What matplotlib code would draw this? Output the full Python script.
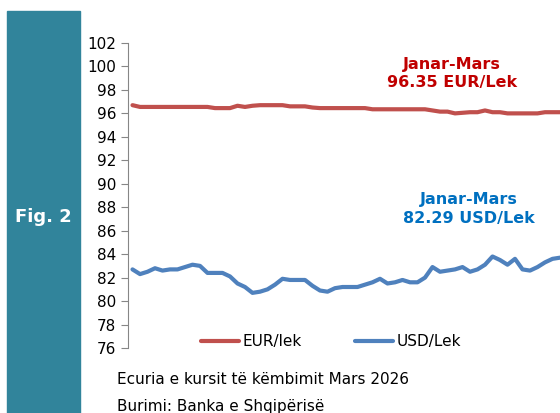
import matplotlib.pyplot as plt
from matplotlib.patches import Rectangle

eur = [96.7, 96.55, 96.55, 96.55, 96.55, 96.55, 96.55, 96.55, 96.55, 96.55,
       96.55, 96.45, 96.45, 96.45, 96.65, 96.55, 96.65, 96.7, 96.7, 96.7,
       96.7, 96.6, 96.6, 96.6, 96.5, 96.45, 96.45, 96.45, 96.45, 96.45,
       96.45, 96.45, 96.35, 96.35, 96.35, 96.35, 96.35, 96.35, 96.35, 96.35,
       96.25, 96.15, 96.15, 96.0, 96.05, 96.1, 96.1, 96.25, 96.1, 96.1,
       96.0, 96.0, 96.0, 96.0, 96.0, 96.1, 96.1, 96.1]
usd = [82.7, 82.3, 82.5, 82.8, 82.6, 82.7, 82.7, 82.9, 83.1, 83.0,
       82.4, 82.4, 82.4, 82.1, 81.5, 81.2, 80.7, 80.8, 81.0, 81.4,
       81.9, 81.8, 81.8, 81.8, 81.3, 80.9, 80.8, 81.1, 81.2, 81.2,
       81.2, 81.4, 81.6, 81.9, 81.5, 81.6, 81.8, 81.6, 81.6, 82.0,
       82.9, 82.5, 82.6, 82.7, 82.9, 82.5, 82.7, 83.1, 83.8, 83.5,
       83.1, 83.6, 82.7, 82.6, 82.9, 83.3, 83.6, 83.7]
yticks = list(range(76, 103, 2))

fig = plt.figure(figsize=(5.6, 4.13), dpi=100)
fig.patches.append(Rectangle((7 / 560, 0), 73 / 560, 1 - 11 / 413,
                             transform=fig.transFigure, color='#31849B', zorder=0))
fig.text(43 / 560, 1 - 217 / 413, 'Fig. 2', color='white', fontsize=13,
         fontweight='bold', ha='center', va='center')

ax = fig.add_axes([128 / 560, 1 - 348 / 413, 1 - 128 / 560, 305 / 413])
x = list(range(len(usd)))
ax.plot(x, eur, color='#C0504D', lw=3, label='EUR/lek', solid_capstyle='round')
ax.plot(x, usd, color='#4F81BD', lw=3, label='USD/Lek', solid_capstyle='round')
ax.set_ylim(76, 102)
ax.set_xlim(-0.6, len(usd) - 1)
ax.set_yticks(yticks)
ax.set_xticks([])
for s in ['top', 'right', 'bottom']:
    ax.spines[s].set_visible(False)
ax.spines['left'].set_color('#868686')
ax.tick_params(axis='y', colors='#868686', labelcolor='black', labelsize=11, length=5)
ax.set_facecolor('none')

ax.text(0.75, 0.955, 'Janar-Mars\n96.35 EUR/Lek', transform=ax.transAxes, ha='center',
        va='top', color='#C00000', fontsize=11.5, fontweight='bold', linespacing=1.3)
ax.text(0.79, 0.51, 'Janar-Mars\n82.29 USD/Lek', transform=ax.transAxes, ha='center',
        va='top', color='#0070C0', fontsize=11.5, fontweight='bold', linespacing=1.3)

leg = ax.legend(loc='center', bbox_to_anchor=(0.47, 0.02), ncol=2, frameon=False,
                fontsize=11, handlelength=2.5, columnspacing=3.5, handletextpad=0.2,
                borderpad=0)

fig.text(117 / 560, 1 - 380 / 413, 'Ecuria e kursit të këmbimit Mars 2026',
         fontsize=11, va='center')
fig.text(117 / 560, 1 - 406 / 413, 'Burimi: Banka e Shqipërisë',
         fontsize=11, va='center')

fig.savefig('out.png', dpi=100)
